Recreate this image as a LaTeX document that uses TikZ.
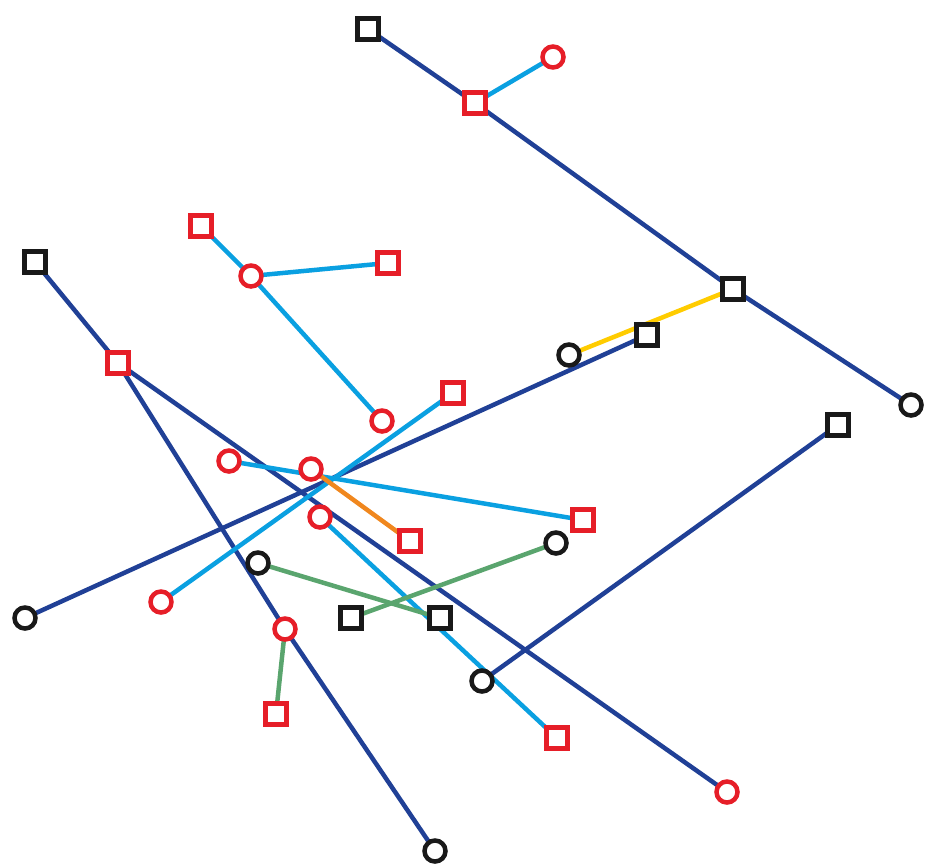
\documentclass[tikz,border=0pt]{standalone}
\definecolor{dblue}{RGB}{32,64,150}
\definecolor{lblue}{RGB}{10,160,225}
\definecolor{nred}{RGB}{230,30,40}
\definecolor{ngreen}{RGB}{90,165,110}
\definecolor{norange}{RGB}{240,135,30}
\definecolor{nyellow}{RGB}{255,204,0}
\definecolor{nblack}{RGB}{25,25,25}
\tikzset{
  sq/.style={draw, rectangle, fill=white, line width=4.5pt, minimum size=21pt, inner sep=0pt},
  ci/.style={draw, circle, fill=white, line width=4.5pt, minimum size=21pt, inner sep=0pt},
  bsq/.style={sq, draw=nblack}, rsq/.style={sq, draw=nred},
  bci/.style={ci, draw=nblack}, rci/.style={ci, draw=nred},
  edge/.style={line width=4.5pt},
  db/.style={edge, draw=dblue}, lb/.style={edge, draw=lblue},
  gr/.style={edge, draw=ngreen}, orl/.style={edge, draw=norange}, yl/.style={edge, draw=nyellow}
}
\begin{document}
\begin{tikzpicture}[x=1pt,y=-1pt]
\useasboundingbox (0,0) rectangle (926,865);
% black squares
\node[bsq] (b1) at (368,29) {};
\node[bsq] (b2) at (35,262) {};
\node[bsq] (b3) at (733,289) {};
\node[bsq] (b4) at (647,335) {};
\node[bsq] (b5) at (838,425) {};
\node[bsq] (b6) at (351,618) {};
\node[bsq] (b7) at (440,618) {};
% black circles
\node[bci] (c1) at (569,355) {};
\node[bci] (c2) at (911,405) {};
\node[bci] (c3) at (25,618) {};
\node[bci] (c4) at (258,563) {};
\node[bci] (c5) at (556,543) {};
\node[bci] (c6) at (482,681) {};
\node[bci] (c7) at (435,851) {};
% red squares
\node[rsq] (r1) at (475,103) {};
\node[rsq] (r2) at (201,226) {};
\node[rsq] (r3) at (388,263) {};
\node[rsq] (r4) at (118,363) {};
\node[rsq] (r5) at (453,393) {};
\node[rsq] (r6) at (583,520) {};
\node[rsq] (r7) at (410,541) {};
\node[rsq] (r8) at (276,714) {};
\node[rsq] (r9) at (557,738) {};
% red circles
\node[rci] (q1) at (553,57) {};
\node[rci] (q2) at (251,276) {};
\node[rci] (q3) at (382,421) {};
\node[rci] (q4) at (229,461) {};
\node[rci] (q5) at (311,469) {};
\node[rci] (q6) at (320,517) {};
\node[rci] (q7) at (161,602) {};
\node[rci] (q8) at (285,629) {};
\node[rci] (q9) at (727,792) {};
\begin{scope}[on background layer/.try]
\end{scope}
% edges drawn behind via pgf layers
\pgfdeclarelayer{bg}\pgfsetlayers{bg,main}
\begin{pgfonlayer}{bg}
\draw[db] (b1.center) -- (r1.center) -- (b3.center) -- (c2.center);
\draw[lb] (r1.center) -- (q1.center);
\draw[lb] (r2.center) -- (q2.center) -- (r3.center);
\draw[lb] (q2.center) -- (q3.center);
\draw[db] (b2.center) -- (r4.center) -- (q8.center) -- (c7.center);
\draw[db] (r4.center) -- (q9.center);
\draw[db] (c3.center) -- (b4.center);
\draw[yl] (c1.center) -- (b3.center);
\draw[lb] (q7.center) -- (r5.center);
\draw[lb] (q4.center) -- (r6.center);
\draw[orl] (q5.center) -- (r7.center);
\draw[lb] (q6.center) -- (r9.center);
\draw[gr] (c4.center) -- (b7.center);
\draw[gr] (b6.center) -- (c5.center);
\draw[gr] (q8.center) -- (r8.center);
\draw[db] (c6.center) -- (b5.center);
\end{pgfonlayer}
\end{tikzpicture}
\end{document}
